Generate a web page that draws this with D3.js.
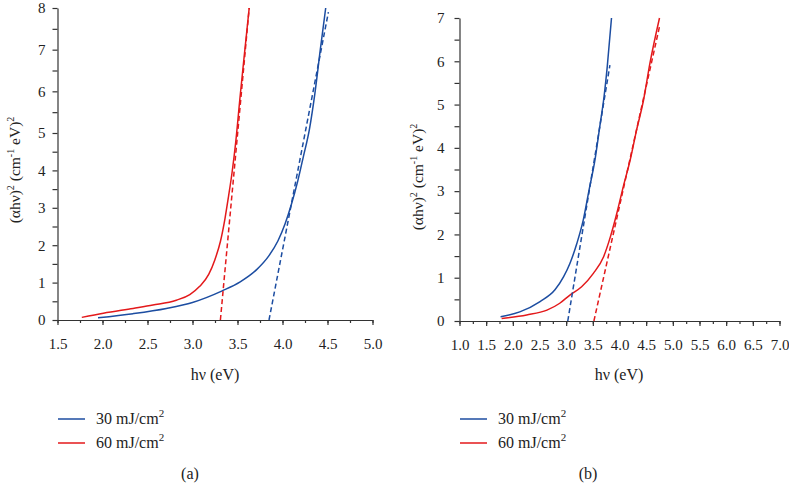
<!DOCTYPE html>
<html>
<head>
<meta charset="utf-8">
<script src="https://cdn.jsdelivr.net/npm/d3@7"></script>
<style>
  body { margin: 0; background: #fff; }
  svg { display: block; font-family: "Liberation Serif", "Times New Roman", serif; }
  .axis path, .axis line { stroke: #333; stroke-width: 1.2; }
  .axis text { font-family: "Liberation Serif", "Times New Roman", serif; font-size: 15px; fill: #222; }
</style>
</head>
<body>
<svg id="chart" width="789" height="483"></svg>
<script>
// series names (legend) and colours
const seriesNames = ["30 mJ/cm", "60 mJ/cm"];
const seriesColors = ["#1c4da1", "#e3191b"];

// panel (a) - measured curves
const hvA30 = [1.95, 2.34, 2.71, 3.0, 3.33, 3.53, 3.71, 3.85, 3.95, 4.03, 4.10, 4.17, 4.23, 4.30, 4.36, 4.42, 4.48];
const aA30  = [0.06, 0.17, 0.31, 0.47, 0.78, 1.02, 1.34, 1.72, 2.12, 2.58, 3.10, 3.72, 4.35, 5.10, 5.95, 7.0, 8.0];
const hvA60 = [1.77, 2.01, 2.34, 2.56, 2.82, 2.97, 3.08, 3.18, 3.25, 3.31, 3.36, 3.40, 3.44, 3.48, 3.53, 3.58, 3.63];
const aA60  = [0.07, 0.18, 0.31, 0.40, 0.53, 0.68, 0.90, 1.22, 1.62, 2.10, 2.70, 3.30, 3.95, 4.75, 5.90, 6.96, 8.0];
// panel (a) - linear fits (Tauc extrapolation)
const fitHvA30 = [3.85, 4.51], fitA30 = [0, 7.9];
const fitHvA60 = [3.31, 3.63], fitA60 = [0, 8.0];

// panel (b) - measured curves
const hvB30 = [1.77, 2.13, 2.51, 2.79, 2.95, 3.07, 3.20, 3.32, 3.43, 3.54, 3.63, 3.71, 3.77, 3.85];
const aB30  = [0.1, 0.21, 0.45, 0.72, 1.02, 1.33, 1.79, 2.33, 3.03, 3.72, 4.49, 5.18, 5.87, 7.0];
const hvB60 = [1.79, 2.26, 2.64, 2.88, 3.07, 3.29, 3.51, 3.70, 3.83, 3.95, 4.07, 4.2, 4.32, 4.45, 4.57, 4.75];
const aB60  = [0.06, 0.14, 0.25, 0.41, 0.6, 0.79, 1.1, 1.48, 1.95, 2.49, 3.1, 3.72, 4.41, 5.1, 5.95, 7.0];
// panel (b) - linear fits
const fitHvB30 = [3.03, 3.82], fitB30 = [0, 5.91];
const fitHvB60 = [3.52, 4.75], fitB60 = [0, 6.8];

// tick values
const xTicksA = [1.5, 2.0, 2.5, 3.0, 3.5, 4.0, 4.5, 5.0];
const xTicksB = [1.0, 1.5, 2.0, 2.5, 3.0, 3.5, 4.0, 4.5, 5.0, 5.5, 6.0, 6.5, 7.0];
const yTicksA = [0, 1, 2, 3, 4, 5, 6, 7, 8];
const yTicksB = [0, 1, 2, 3, 4, 5, 6, 7];

const svg = d3.select("#chart");
const zip = (xs, ys) => xs.map((x, i) => [x, ys[i]]);

function panel(opt) {
  const g = svg.append("g");
  const x = opt.x, y = opt.y;
  const x0 = x.range()[0], y0 = y.range()[0];

  // minor ticks
  const xMinor = d3.range(x.domain()[0], x.domain()[1] + 0.001, 0.25);
  g.append("g").attr("class", "axis").attr("transform", `translate(0,${y0})`)
    .call(d3.axisBottom(x).tickValues(xMinor).tickSize(3).tickFormat(""))
    .select(".domain").remove();
  const yMax = y.domain()[y.domain().length - 1];
  const yMinor = d3.range(0.5, yMax, 1);
  g.append("g").attr("class", "axis").attr("transform", `translate(${x0},0)`)
    .call(d3.axisLeft(y).tickValues(yMinor).tickSize(5).tickFormat(""))
    .select(".domain").remove();

  // main axes
  g.append("g").attr("class", "axis").attr("transform", `translate(0,${y0})`)
    .call(d3.axisBottom(x).tickValues(opt.xTicks).tickSize(5).tickSizeOuter(0)
      .tickPadding(13).tickFormat(d3.format(".1f")));
  g.append("g").attr("class", "axis").attr("transform", `translate(${x0},0)`)
    .call(d3.axisLeft(y).tickValues(opt.yTicks).tickSize(5).tickSizeOuter(0)
      .tickPadding(opt.yPad).tickFormat(d3.format("d")));

  const line = d3.line().x(d => x(d[0])).y(d => y(d[1]));
  const curve = d3.line().x(d => x(d[0])).y(d => y(d[1])).curve(d3.curveMonotoneX);

  opt.curves.forEach((c, i) => {
    g.append("path").attr("d", curve(c)).attr("fill", "none")
      .attr("stroke", seriesColors[i]).attr("stroke-width", 1.5);
  });
  opt.fits.forEach((c, i) => {
    g.append("path").attr("d", line(c)).attr("fill", "none")
      .attr("stroke", seriesColors[i]).attr("stroke-width", 1.5)
      .attr("stroke-dasharray", "5,3");
  });

  // x title
  g.append("text").attr("x", opt.xTitleX).attr("y", 380)
    .attr("text-anchor", "middle").attr("font-size", 16).attr("fill", "#222")
    .text("hν (eV)");

  // y title
  const yt = g.append("text")
    .attr("transform", `translate(${opt.yTitleX},${opt.yTitleY}) rotate(-90)`)
    .attr("text-anchor", "middle").attr("font-size", 15.5).attr("fill", "#222");
  yt.append("tspan").text("(αhν)");
  yt.append("tspan").attr("font-size", 10).attr("dy", -6).text("2");
  yt.append("tspan").attr("dy", 6).text(" (cm");
  yt.append("tspan").attr("font-size", 10).attr("dy", -6).text("-1");
  yt.append("tspan").attr("dy", 6).text(" eV)");
  yt.append("tspan").attr("font-size", 10).attr("dy", -6).text("2");

  // legend
  seriesNames.forEach((name, i) => {
    const ly = 419 + i * 24;
    g.append("line").attr("x1", opt.legendX).attr("x2", opt.legendX + 27)
      .attr("y1", ly).attr("y2", ly)
      .attr("stroke", seriesColors[i]).attr("stroke-width", 1.5);
    const t = g.append("text").attr("x", opt.legendX + 38).attr("y", ly + 5)
      .attr("font-size", 16).attr("fill", "#222");
    t.append("tspan").text(name);
    t.append("tspan").attr("font-size", 11).attr("dy", -7).text("2");
  });

  g.append("text").attr("x", opt.labelX).attr("y", 479)
    .attr("text-anchor", "middle").attr("font-size", 16).attr("fill", "#222")
    .text(opt.label);
}

panel({
  x: d3.scaleLinear().domain([1.5, 5.0]).range([57.5, 372.5]),
  y: d3.scaleLinear().domain([0, 5, 8]).range([320, 133, 8]),
  xTicks: xTicksA, yTicks: yTicksA, yPad: 7,
  curves: [zip(hvA30, aA30), zip(hvA60, aA60)],
  fits: [zip(fitHvA30, fitA30), zip(fitHvA60, fitA60)],
  xTitleX: 215, yTitleX: 20, yTitleY: 170,
  legendX: 58, labelX: 190, label: "(a)"
});

panel({
  x: d3.scaleLinear().domain([1.0, 7.0]).range([459.5, 779.5]),
  y: d3.scaleLinear().domain([0, 7]).range([321, 18]),
  xTicks: xTicksB, yTicks: yTicksB, yPad: 10,
  curves: [zip(hvB30, aB30), zip(hvB60, aB60)],
  fits: [zip(fitHvB30, fitB30), zip(fitHvB60, fitB60)],
  xTitleX: 619, yTitleX: 423, yTitleY: 177,
  legendX: 460, labelX: 588, label: "(b)"
});
</script>
</body>
</html>
